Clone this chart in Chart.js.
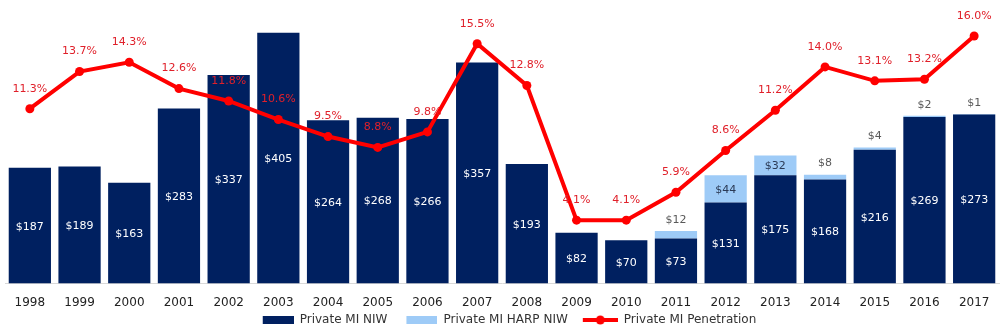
<!DOCTYPE html>
<html>
<head>
<meta charset="utf-8">
<script src="https://cdn.jsdelivr.net/npm/chart.js@4"></script>
<style>
  html, body { margin: 0; padding: 0; background: #fff; }
  #wrap { width: 1004px; height: 332px; position: relative; }
</style>
</head>
<body>
<div id="wrap"><canvas id="miChart"></canvas></div>
<script>
// Chart data
const years = ["1998", "1999", "2000", "2001", "2002", "2003", "2004", "2005", "2006", "2007",
               "2008", "2009", "2010", "2011", "2012", "2013", "2014", "2015", "2016", "2017"];
const niw = [187, 189, 163, 283, 337, 405, 264, 268, 266, 357,
             193, 82, 70, 73, 131, 175, 168, 216, 269, 273];
const harpNiw = [null, null, null, null, null, null, null, null, null, null,
                 null, null, null, 12, 44, 32, 8, 4, 2, 1];
const penetration = [11.3, 13.7, 14.3, 12.6, 11.8, 10.6, 9.5, 8.8, 9.8, 15.5,
                     12.8, 4.1, 4.1, 5.9, 8.6, 11.2, 14.0, 13.1, 13.2, 16.0];

const colors = {
    navy: "#002060",
    lightBlue: "#9ecbf7",
    red: "#ff0000",
    redText: "#e0202a",
    text: "#222222",
};
const labelFont = '11px "DejaVu Sans"';

// legend swatches (drawn as point style images)
const makeSwatch = (kind, color) => {
    const c = document.createElement("canvas");
    c.width = 46;
    c.height = 12;
    const g = c.getContext("2d");
    if (kind === "rect") {
        g.fillStyle = color;
        g.fillRect(15, 2, 31, 8);
    } else {
        g.strokeStyle = color;
        g.lineWidth = 4;
        g.beginPath();
        g.moveTo(11, 6);
        g.lineTo(46, 6);
        g.stroke();
        g.fillStyle = color;
        g.beginPath();
        g.arc(28.5, 6, 4.5, 0, Math.PI * 2);
        g.fill();
    }
    return c;
};

// keep the legend box compact under the axis
const legendHeight = {
    id: "legendHeight",
    beforeLayout(chart) {
        const legend = chart.legend;
        if (!legend || legend._fitPatched) return;
        const fit = legend.fit;
        legend.fit = function () {
            fit.call(this);
            this.height = 22;
            this.minSize = { width: this.width, height: this.height };
        };
        legend._fitPatched = true;
    },
};

// value labels on bars and line points
const valueLabels = {
    id: "valueLabels",
    afterDatasetsDraw(chart) {
        const ctx = chart.ctx;
        ctx.save();
        ctx.font = labelFont;
        ctx.textAlign = "center";
        ctx.textBaseline = "middle";

        const niwMeta = chart.getDatasetMeta(0);
        niwMeta.data.forEach((bar, i) => {
            const p = bar.getProps(["x", "y", "base"], true);
            ctx.fillStyle = "#ffffff";
            ctx.fillText("$" + niw[i], p.x, (p.y + p.base) / 2 + 1);
        });

        const harpMeta = chart.getDatasetMeta(1);
        harpMeta.data.forEach((bar, i) => {
            if (harpNiw[i] == null) return;
            const p = bar.getProps(["x", "y", "base"], true);
            const h = p.base - p.y;
            if (h >= 16) {
                ctx.fillStyle = "#2b3a55";
                ctx.fillText("$" + harpNiw[i], p.x, (p.y + p.base) / 2 + 1);
            } else {
                ctx.fillStyle = "#595959";
                ctx.fillText("$" + harpNiw[i], p.x, p.y - 11);
            }
        });

        const lineMeta = chart.getDatasetMeta(2);
        lineMeta.data.forEach((pt, i) => {
            const p = pt.getProps(["x", "y"], true);
            ctx.fillStyle = colors.redText;
            ctx.fillText(penetration[i].toFixed(1) + "%", p.x, p.y - 20);
        });
        ctx.restore();
    },
};

new Chart(document.getElementById("miChart"), {
    type: "bar",
    data: {
        labels: years,
        datasets: [
            {
                label: "Private MI NIW",
                data: niw,
                backgroundColor: colors.navy,
                yAxisID: "y",
                stack: "niw",
                order: 1,
            },
            {
                label: "Private MI HARP NIW",
                data: harpNiw,
                backgroundColor: colors.lightBlue,
                yAxisID: "y",
                stack: "niw",
                order: 2,
            },
            {
                type: "line",
                label: "Private MI Penetration",
                data: penetration,
                borderColor: colors.red,
                backgroundColor: colors.red,
                borderWidth: 4,
                pointRadius: 4.5,
                pointBackgroundColor: colors.red,
                pointBorderWidth: 0,
                tension: 0,
                yAxisID: "y1",
                order: 0,
            },
        ],
    },
    options: {
        responsive: true,
        maintainAspectRatio: false,
        animation: false,
        datasets: {
            bar: {
                categoryPercentage: 1,
                barPercentage: 0.85,
            },
        },
        layout: {
            padding: { top: 5, left: 5, right: 5, bottom: 0 },
        },
        plugins: {
            tooltip: { enabled: false },
            legend: {
                position: "bottom",
                labels: {
                    usePointStyle: true,
                    pointStyleWidth: 46,
                    boxHeight: 10,
                    padding: 4,
                    color: "#333333",
                    font: { family: "DejaVu Sans", size: 12 },
                    generateLabels: () => [
                        { text: "Private MI NIW", pointStyle: makeSwatch("rect", colors.navy), datasetIndex: 0, fontColor: "#333333", lineWidth: 0, hidden: false },
                        { text: "Private MI HARP NIW", pointStyle: makeSwatch("rect", colors.lightBlue), datasetIndex: 1, fontColor: "#333333", lineWidth: 0, hidden: false },
                        { text: "Private MI Penetration", pointStyle: makeSwatch("line", colors.red), datasetIndex: 2, fontColor: "#333333", lineWidth: 0, hidden: false },
                    ],
                },
            },
        },
        scales: {
            x: {
                stacked: true,
                grid: {
                    display: true,
                    drawOnChartArea: false,
                    drawTicks: true,
                    tickLength: 12,
                    color: "rgba(0,0,0,0)",
                },
                border: { display: true, color: "#d9d9d9", width: 1 },
                ticks: {
                    color: colors.text,
                    padding: 0,
                    font: { family: "DejaVu Sans", size: 12 },
                },
            },
            y: {
                display: false,
                stacked: true,
                min: 0,
                max: 450,
            },
            y1: {
                display: false,
                min: 0,
                max: 18,
            },
        },
    },
    plugins: [legendHeight, valueLabels],
});
</script>
</body>
</html>
